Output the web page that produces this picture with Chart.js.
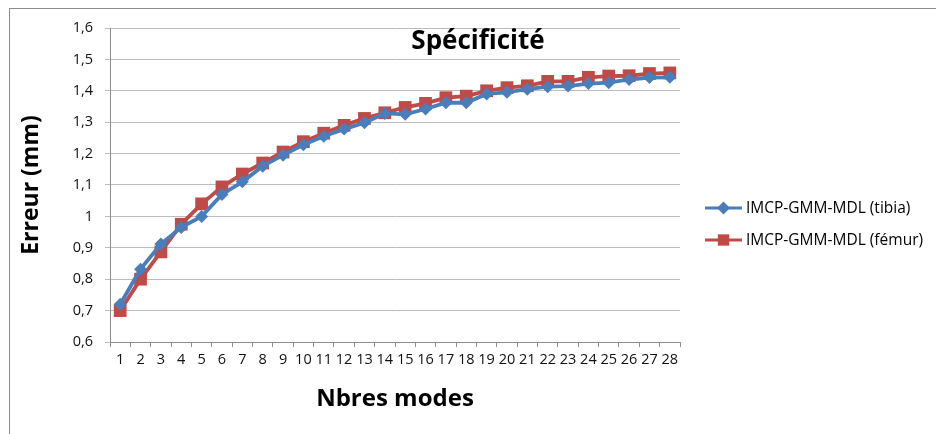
<!DOCTYPE html>
<html>
<head>
<meta charset="utf-8">
<script src="https://cdn.jsdelivr.net/npm/chart.js@4"></script>
<style>
  html, body { margin: 0; padding: 0; background: #fff; }
  #wrap { width: 936px; height: 434px; position: relative; }
</style>
</head>
<body>
<div id="wrap"><canvas id="chart"></canvas></div>
<script>
// number of modes 1..28
const modes = [1, 2, 3, 4, 5, 6, 7, 8, 9, 10, 11, 12, 13, 14, 15, 16, 17, 18, 19, 20, 21, 22, 23, 24, 25, 26, 27, 28];

const tibia = [0.72, 0.832, 0.912, 0.965, 1.0, 1.07, 1.11, 1.16, 1.195, 1.228, 1.255, 1.278, 1.298, 1.328, 1.325, 1.342, 1.362, 1.362, 1.39, 1.395, 1.405, 1.413, 1.415, 1.423, 1.426, 1.436, 1.442, 1.443];
const femur = [0.70, 0.80, 0.887, 0.975, 1.04, 1.094, 1.135, 1.17, 1.205, 1.238, 1.265, 1.29, 1.312, 1.33, 1.347, 1.36, 1.378, 1.383, 1.40, 1.41, 1.416, 1.43, 1.43, 1.443, 1.447, 1.448, 1.455, 1.457];

const yTicks = [0.6, 0.7, 0.8, 0.9, 1.0, 1.1, 1.2, 1.3, 1.4, 1.5, 1.6];

const blue = '#4a7ebb';
const red = '#be4b48';
const fontFam = "'Open Sans', 'Noto Sans', sans-serif";

// frame, title and the line+marker legend on the right
const extras = {
    id: 'extras',
    afterDraw(chart) {
        const ctx = chart.ctx;
        ctx.save();
        ctx.strokeStyle = '#8c8c8c';
        ctx.lineWidth = 1;
        ctx.strokeRect(9.5, 8.5, 960, 460);

        ctx.fillStyle = '#000';
        ctx.font = "bold 26px " + fontFam;
        ctx.textAlign = 'center';
        ctx.textBaseline = 'middle';
        ctx.fillText('Spécificité', 478, 42);

        const items = [
            { text: 'IMCP-GMM-MDL (tibia)', color: blue, style: 'rectRot', r: 6.5 },
            { text: 'IMCP-GMM-MDL (fémur)', color: red, style: 'rect', r: 8 }
        ];
        ctx.font = "15.5px " + fontFam;
        ctx.textAlign = 'left';
        items.forEach((it, i) => {
            const y = 208 + i * 32;
            ctx.strokeStyle = it.color;
            ctx.lineWidth = 3;
            ctx.beginPath();
            ctx.moveTo(705, y);
            ctx.lineTo(742, y);
            ctx.stroke();
            ctx.fillStyle = it.color;
            Chart.helpers.drawPoint(ctx, { pointStyle: it.style, radius: it.r, borderWidth: 0 }, 723.5, y);
            ctx.fillStyle = '#000';
            ctx.fillText(it.text, 746, y + 1);
        });
        ctx.restore();
    }
};

new Chart(document.getElementById('chart'), {
    type: 'line',
    data: {
        labels: modes,
        datasets: [
            {
                label: 'IMCP-GMM-MDL (tibia)',
                data: tibia,
                borderColor: blue,
                backgroundColor: blue,
                borderWidth: 3.8,
                pointStyle: 'rectRot',
                pointRadius: 6.5,
                pointBorderWidth: 0,
                tension: 0
            },
            {
                label: 'IMCP-GMM-MDL (fémur)',
                data: femur,
                borderColor: red,
                backgroundColor: red,
                borderWidth: 3.8,
                pointStyle: 'rect',
                pointRadius: 9,
                pointBorderWidth: 0,
                tension: 0
            }
        ]
    },
    options: {
        responsive: true,
        maintainAspectRatio: false,
        animation: false,
        layout: { padding: { left: 18, right: 256, top: 28, bottom: 20 } },
        plugins: {
            legend: { display: false },
            title: { display: false },
            tooltip: { enabled: false }
        },
        scales: {
            x: {
                type: 'category',
                offset: true,
                grid: { offset: true, drawOnChartArea: false, drawTicks: true, tickLength: 5, color: '#8c8c8c' },
                border: { color: '#8c8c8c', width: 1 },
                ticks: {
                    autoSkip: false, maxRotation: 0, minRotation: 0,
                    color: '#111', padding: 4,
                    font: { family: fontFam, size: 14.5 }
                },
                title: {
                    display: true, text: 'Nbres modes', color: '#000',
                    font: { family: fontFam, size: 24, weight: 'bold' },
                    padding: { top: 10, bottom: 0 }
                },
                afterFit(scale) { scale.height = 72; }
            },
            y: {
                min: 0.6,
                max: 1.6,
                afterBuildTicks(scale) { scale.ticks = yTicks.map(v => ({ value: v })); },
                grid: { color: '#bcbcbc', lineWidth: 1, drawTicks: true, tickLength: 5 },
                border: { color: '#8c8c8c', width: 1 },
                ticks: {
                    color: '#111', padding: 12,
                    font: { family: fontFam, size: 14.5 },
                    callback: v => String(Math.round(v * 10) / 10).replace('.', ',')
                },
                title: {
                    display: true, text: 'Erreur (mm)', color: '#000',
                    font: { family: fontFam, size: 23, weight: 'bold' },
                    padding: { top: 0, bottom: 4 }
                },
                afterFit(scale) { scale.width = 92; }
            }
        }
    },
    plugins: [extras]
});
</script>
</body>
</html>
